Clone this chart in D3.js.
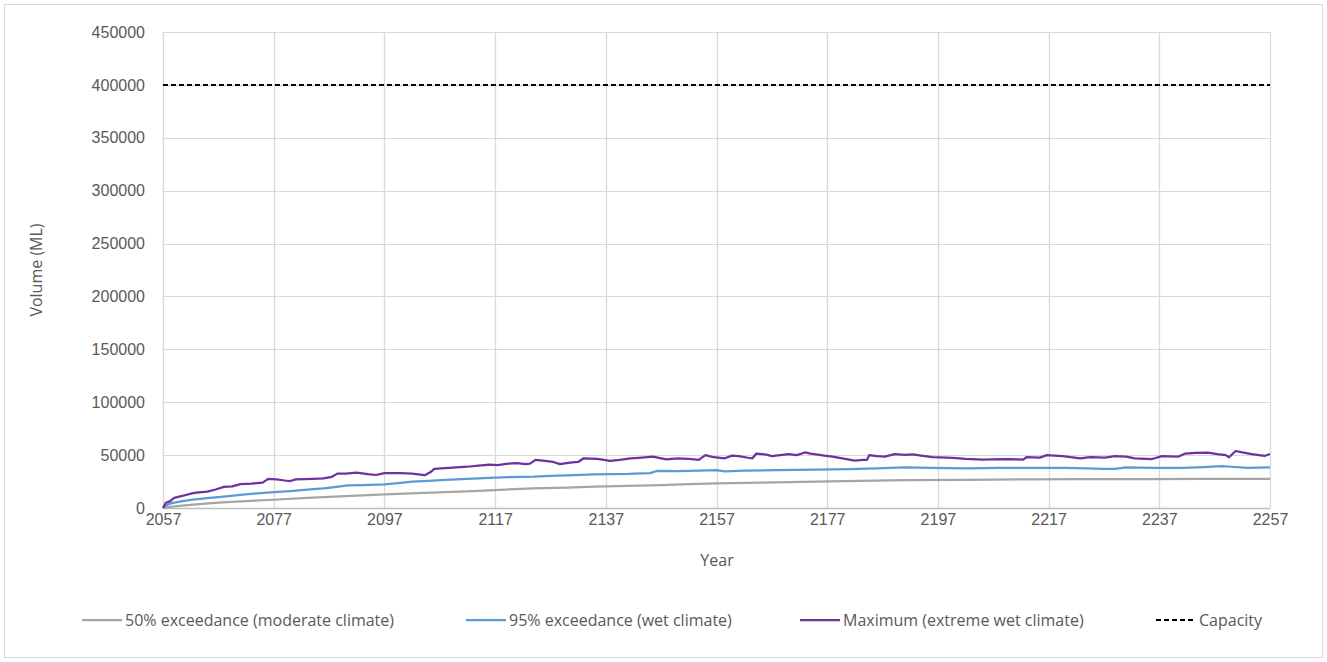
<!DOCTYPE html>
<html>
<head>
<meta charset="utf-8">
<script src="https://cdn.jsdelivr.net/npm/d3@7"></script>
<style>
  html, body { margin: 0; padding: 0; background: #ffffff; }
  svg { display: block; font-family: "Open Sans", sans-serif; }
</style>
</head>
<body>
<svg id="chart" width="1327" height="662"></svg>
<script>
// Storage volume projections (ML) by year
const xTicks = [2057, 2077, 2097, 2117, 2137, 2157, 2177, 2197, 2217, 2237, 2257];
const yTicks = [0, 50000, 100000, 150000, 200000, 250000, 300000, 350000, 400000, 450000];

const capacity = 400000;

// 50% exceedance (moderate climate)
const medianYears  = [2057, 2058, 2060, 2063, 2067, 2072, 2077, 2083, 2090, 2097, 2103, 2108, 2113, 2117, 2124, 2130, 2135, 2141, 2147, 2152, 2157, 2165, 2175, 2183, 2191, 2202, 2212, 2224, 2235, 2245, 2257];
const medianValues = [0, 800, 2000, 3500, 5000, 6500, 7800, 9500, 11300, 12900, 14000, 15000, 16000, 17000, 18600, 19300, 20100, 21000, 21700, 22500, 23300, 24000, 24900, 25700, 26300, 26600, 27000, 27200, 27300, 27500, 27600];

// 95% exceedance (wet climate)
const wetYears  = [2057, 2057.5, 2058.4, 2060, 2062, 2065, 2068, 2071, 2074, 2077, 2080, 2083, 2086, 2088, 2090.4, 2093, 2097, 2100, 2102, 2105, 2108, 2112, 2117, 2120, 2124, 2127, 2130, 2135, 2141, 2145, 2146.2, 2150, 2152, 2157, 2158.5, 2162, 2168, 2175, 2181, 2186, 2191, 2196, 2202, 2208, 2214, 2220, 2224, 2227, 2229, 2231, 2236, 2241, 2244, 2248.3, 2250, 2253, 2257];
const wetValues = [0, 2500, 4400, 6000, 7600, 9300, 10700, 12300, 13900, 15000, 16000, 17300, 18600, 19800, 21300, 21600, 22400, 23800, 24900, 25700, 26500, 27500, 28700, 29300, 29600, 30300, 30800, 31800, 32200, 33000, 35000, 34800, 35200, 35900, 34600, 35300, 35900, 36300, 36800, 37500, 38300, 38000, 37500, 37900, 38000, 38000, 37500, 37000, 36900, 38400, 38000, 38000, 38500, 39700, 39000, 38000, 38400];

// Maximum (extreme wet climate)
const maxYears  = [2057, 2057.5, 2058.3, 2059, 2060.5, 2062, 2063, 2065, 2066.5, 2068, 2069.5, 2071, 2073, 2075, 2076, 2077.5, 2079, 2080, 2081, 2084, 2086, 2087.5, 2088.5, 2090, 2092, 2094, 2095.5, 2097, 2100, 2102, 2104.3, 2105.5, 2106, 2108, 2110, 2112, 2114, 2116, 2117.5, 2119, 2121, 2122.5, 2123.3, 2124.3, 2126, 2127.5, 2128.7, 2130.5, 2132, 2133, 2135.5, 2137.8, 2139.5, 2141.5, 2143, 2145.5, 2147, 2148, 2150, 2152, 2153.8, 2155, 2156.5, 2158.5, 2159.8, 2161, 2162.7, 2163.5, 2164.2, 2166, 2167, 2168.5, 2170, 2171.5, 2173, 2174, 2176.5, 2178, 2179.7, 2182, 2183.5, 2184.2, 2184.6, 2186, 2187.4, 2189.2, 2191, 2192.5, 2194, 2196, 2199.7, 2202, 2205, 2207, 2209.5, 2212.4, 2213, 2215.4, 2216.7, 2218, 2219.6, 2221, 2222.7, 2224.5, 2227.2, 2229, 2231, 2232.6, 2235.7, 2237.5, 2240.4, 2241.7, 2243.5, 2245.8, 2247.5, 2249, 2249.6, 2250.8, 2252, 2253.7, 2256, 2257];
const maxValues = [0, 5000, 6500, 9500, 11500, 13500, 14500, 15500, 17500, 20000, 20500, 22500, 23000, 24000, 27500, 27000, 26000, 25500, 27000, 27500, 28000, 29500, 32500, 32500, 33500, 32000, 31200, 33000, 33000, 32500, 31000, 34500, 37000, 37800, 38500, 39000, 40000, 41000, 40500, 41800, 42500, 41500, 42000, 45500, 44500, 43500, 41500, 43000, 43500, 47000, 46500, 44500, 45500, 47000, 47500, 48500, 47000, 46000, 47000, 46500, 45500, 50000, 48000, 47000, 49500, 49000, 47500, 47000, 51500, 50500, 49000, 50000, 51000, 50000, 52500, 51500, 49500, 48500, 47000, 44800, 45500, 45500, 50000, 49000, 48500, 51000, 50200, 50700, 49500, 48000, 47500, 46500, 45700, 46000, 46300, 45700, 48000, 47600, 50000, 49500, 49000, 48000, 47000, 48200, 47600, 49000, 48500, 47000, 46300, 49000, 48500, 51500, 52000, 52400, 51000, 50000, 48000, 53900, 52500, 51000, 49200, 51000];

const seriesNames = ["50% exceedance (moderate climate)", "95% exceedance (wet climate)", "Maximum (extreme wet climate)", "Capacity"];

const svg = d3.select("#chart");
const W = 1327, H = 662;
const margin = { left: 163, right: 57, top: 32, bottom: 154 };
const plotW = W - margin.left - margin.right;
const plotH = H - margin.top - margin.bottom;

const textColor = "#595959";
const gridColor = "#d9d9d9";

// chart-area border
svg.append("rect")
  .attr("x", 4.5).attr("y", 4.5)
  .attr("width", 1318).attr("height", 653)
  .attr("fill", "#ffffff")
  .attr("stroke", gridColor).attr("stroke-width", 1);

const x = d3.scaleLinear().domain([2057, 2257]).range([margin.left, margin.left + plotW]);
const y = d3.scaleLinear().domain([0, 450000]).range([margin.top + plotH, margin.top]);

const g = svg.append("g");

// gridlines
g.append("g")
  .selectAll("line.h")
  .data(yTicks)
  .join("line")
  .attr("x1", margin.left).attr("x2", margin.left + plotW)
  .attr("y1", d => Math.round(y(d)) + 0.5).attr("y2", d => Math.round(y(d)) + 0.5)
  .attr("stroke", gridColor).attr("stroke-width", 1);

g.append("g")
  .selectAll("line.v")
  .data(xTicks)
  .join("line")
  .attr("x1", d => Math.round(x(d)) + 0.5).attr("x2", d => Math.round(x(d)) + 0.5)
  .attr("y1", margin.top).attr("y2", margin.top + plotH)
  .attr("stroke", gridColor).attr("stroke-width", 1.3);

// axes
const yAxis = d3.axisLeft(y).tickValues(yTicks).tickSize(0).tickPadding(18).tickFormat(d3.format("d"));
const yG = g.append("g").attr("transform", `translate(${margin.left},0)`).call(yAxis);
yG.select(".domain").remove();
yG.selectAll("text").attr("fill", textColor).style("font-size", "16px");

const xAxis = d3.axisBottom(x).tickValues(xTicks).tickSize(0).tickPadding(6).tickFormat(d3.format("d"));
const xG = g.append("g").attr("transform", `translate(0,${margin.top + plotH})`).call(xAxis);
xG.select(".domain").attr("stroke", "#bfbfbf").attr("stroke-width", 1.3);
xG.selectAll("text").attr("fill", textColor).style("font-size", "16px");

// axis titles
svg.append("text")
  .attr("x", 717).attr("y", 566)
  .attr("text-anchor", "middle")
  .attr("fill", textColor).style("font-size", "16px")
  .text("Year");

svg.append("text")
  .attr("transform", "translate(42,270) rotate(-90)")
  .attr("text-anchor", "middle")
  .attr("fill", textColor).style("font-size", "16px")
  .text("Volume (ML)");

// series lines
const line = d3.line().x(d => x(d[0])).y(d => y(d[1]));
const zip = (a, b) => a.map((v, i) => [v, b[i]]);

const series = [
  { name: seriesNames[0], pts: zip(medianYears, medianValues), color: "#a5a5a5" },
  { name: seriesNames[1], pts: zip(wetYears, wetValues), color: "#5b9bd5" },
  { name: seriesNames[2], pts: zip(maxYears, maxValues), color: "#7030a0" }
];

g.append("line")
  .attr("x1", x(2057)).attr("x2", x(2257))
  .attr("y1", y(capacity)).attr("y2", y(capacity))
  .attr("stroke", "#000000").attr("stroke-width", 2)
  .attr("stroke-dasharray", "5,3");

series.forEach(s => {
  g.append("path")
    .datum(s.pts)
    .attr("d", line)
    .attr("fill", "none")
    .attr("stroke", s.color)
    .attr("stroke-width", 2.25)
    .attr("stroke-linejoin", "round");
});

// legend
const legendItems = [
  { name: seriesNames[0], color: "#a5a5a5", dash: null, x0: 82 },
  { name: seriesNames[1], color: "#5b9bd5", dash: null, x0: 466 },
  { name: seriesNames[2], color: "#7030a0", dash: null, x0: 800 },
  { name: seriesNames[3], color: "#000000", dash: "5,3", x0: 1156 }
];
const ly = 620;
const lg = svg.append("g");
legendItems.forEach(it => {
  lg.append("line")
    .attr("x1", it.x0).attr("x2", it.x0 + 40)
    .attr("y1", ly).attr("y2", ly)
    .attr("stroke", it.color).attr("stroke-width", it.dash ? 2 : 2.25)
    .attr("stroke-dasharray", it.dash);
  lg.append("text")
    .attr("x", it.x0 + 43).attr("y", ly)
    .attr("dy", "0.35em")
    .attr("fill", textColor).style("font-size", "16px")
    .text(it.name);
});
</script>
</body>
</html>
